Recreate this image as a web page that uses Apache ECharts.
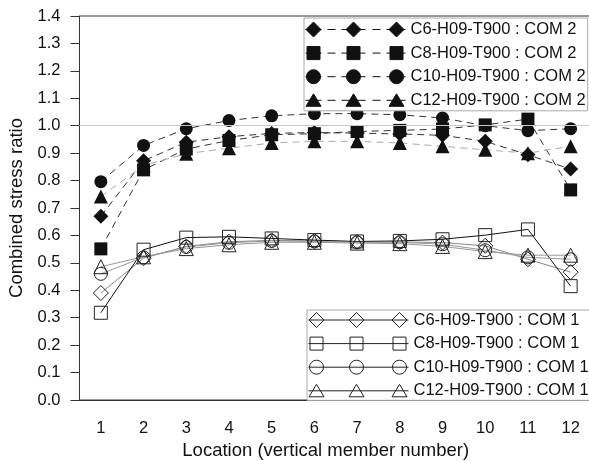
<!DOCTYPE html>
<html>
<head>
<meta charset="utf-8">
<script src="https://cdn.jsdelivr.net/npm/echarts@6/dist/echarts.min.js"></script>
<style>
html,body{margin:0;padding:0;background:#fff;}
#chart{width:589px;height:461px;}
</style>
</head>
<body>
<div id="chart"></div>
<script>
var categories = ['1','2','3','4','5','6','7','8','9','10','11','12'];
var yTickLabels = ['0.0','0.1','0.2','0.3','0.4','0.5','0.6','0.7','0.8','0.9','1.0','1.1','1.2','1.3','1.4'];

var com2C6  = [0.670, 0.872, 0.940, 0.960, 0.972, 0.975, 0.973, 0.970, 0.965, 0.943, 0.894, 0.842];
var com2C8  = [0.551, 0.839, 0.915, 0.946, 0.967, 0.971, 0.979, 0.983, 0.988, 1.003, 1.024, 0.766];
var com2C10 = [0.796, 0.928, 0.989, 1.019, 1.036, 1.044, 1.044, 1.040, 1.028, 1.000, 0.982, 0.989];
var com2C12 = [0.742, 0.855, 0.898, 0.918, 0.937, 0.943, 0.943, 0.937, 0.925, 0.912, 0.900, 0.925];

var com1C6  = [0.390, 0.517, 0.560, 0.577, 0.582, 0.580, 0.577, 0.576, 0.574, 0.562, 0.513, 0.466];
var com1C8  = [0.318, 0.548, 0.592, 0.595, 0.589, 0.583, 0.578, 0.580, 0.586, 0.601, 0.622, 0.415];
var com1C10 = [0.460, 0.520, 0.558, 0.573, 0.580, 0.578, 0.575, 0.575, 0.568, 0.546, 0.520, 0.513];
var com1C12 = [0.486, 0.522, 0.552, 0.566, 0.575, 0.575, 0.572, 0.570, 0.560, 0.541, 0.528, 0.528];

var names2 = ['C6-H09-T900 : COM 2','C8-H09-T900 : COM 2','C10-H09-T900 : COM 2','C12-H09-T900 : COM 2'];
var names1 = ['C6-H09-T900 : COM 1','C8-H09-T900 : COM 1','C10-H09-T900 : COM 1','C12-H09-T900 : COM 1'];

var FONT = 'Liberation Sans, Arial, Helvetica, sans-serif';

// legend icon paths (three markers + line), in a 100 x 16 box
var centers = [8, 48, 91];
function shape(kind, cx) {
  if (kind === 'diamond') return 'M' + cx + ' 0.5 L' + (cx + 7.5) + ' 8 L' + cx + ' 15.5 L' + (cx - 7.5) + ' 8 Z ';
  if (kind === 'rect') return 'M' + (cx - 6.5) + ' 1.5 L' + (cx + 6.5) + ' 1.5 L' + (cx + 6.5) + ' 14.5 L' + (cx - 6.5) + ' 14.5 Z ';
  if (kind === 'circle') return 'M' + (cx - 7) + ' 8 A7 7 0 1 0 ' + (cx + 7) + ' 8 A7 7 0 1 0 ' + (cx - 7) + ' 8 Z ';
  return 'M' + cx + ' 1.5 L' + (cx + 7.5) + ' 14 L' + (cx - 7.5) + ' 14 Z ';
}
function iconPath(kind, dashed) {
  var p = 'path://M0 0 M100 16 ';
  if (dashed) {
    p += 'M0 8 L16 8 M22 8 L30 8 M36 8 L60 8 M67 8 L75 8 M81 8 L100 8 ';
  } else {
    p += 'M0 8 L100 8 ';
  }
  for (var i = 0; i < centers.length; i++) p += shape(kind, centers[i]);
  return p;
}

var kinds = ['diamond', 'rect', 'circle', 'triangle'];
var sizes = [15, 13, 13, 14];
var com2Data = [com2C6, com2C8, com2C10, com2C12];
var com1Data = [com1C6, com1C8, com1C10, com1C12];
var com2LineColors = ['#333', '#333', '#333', '#aaa'];
var com1LineColors = ['#888', '#111', '#999', '#999'];

var series = [];
for (var i = 0; i < 4; i++) {
  series.push({
    name: names1[i], type: 'line', data: com1Data[i],
    symbol: kinds[i], symbolSize: sizes[i], showAllSymbol: true,
    lineStyle: { color: com1LineColors[i], width: 1, type: 'solid' },
    itemStyle: { color: 'rgba(0,0,0,0)', borderColor: '#222', borderWidth: 1 },
    emphasis: { disabled: true }, z: 2
  });
}
for (var j = 0; j < 4; j++) {
  var s = {
    name: names2[j], type: 'line', data: com2Data[j],
    symbol: kinds[j], symbolSize: sizes[j], showAllSymbol: true,
    lineStyle: { color: com2LineColors[j], width: 1, type: [7, 5] },
    itemStyle: { color: '#111', borderColor: '#111', borderWidth: 0 },
    emphasis: { disabled: true }, z: 3
  };
  if (j === 0) {
    s.markLine = {
      silent: true, symbol: ['none', 'none'], label: { show: false },
      lineStyle: { color: '#c8c8c8', width: 1, type: 'solid' },
      emphasis: { disabled: true },
      data: [{ yAxis: 1.0 }]
    };
  }
  series.push(s);
}

function legendData(names, dashed, filled) {
  return names.map(function (n, k) {
    return {
      name: n,
      icon: iconPath(kinds[k], dashed),
      itemStyle: filled
        ? { color: '#111', borderColor: '#111', borderWidth: 1 }
        : { color: 'rgba(0,0,0,0)', borderColor: '#222', borderWidth: 1 }
    };
  });
}

var legendCommon = {
  orient: 'vertical', itemWidth: 100, itemHeight: 16, itemGap: 6.6,
  borderColor: '#aaa', borderWidth: 1, backgroundColor: '#fff',
  selectedMode: false,
  textStyle: { fontSize: 16.5, fontFamily: FONT, color: '#111' }
};

var option = {
  animation: false,
  backgroundColor: '#fff',
  grid: {
    left: 79.5, top: 16, width: 512.5, height: 384,
    outerBoundsMode: 'none', containLabel: false,
    show: true, borderColor: '#333', borderWidth: 1, backgroundColor: 'transparent'
  },
  legend: [
    Object.assign({}, legendCommon, { left: 304, top: 18, padding: [3, 2, 2, 1], data: legendData(names2, true, true) }),
    Object.assign({}, legendCommon, { left: 307, top: 310, padding: [1.5, 2, 1, 1], data: legendData(names1, false, false) })
  ],
  xAxis: {
    type: 'category', data: categories, boundaryGap: true,
    name: 'Location (vertical member number)', nameLocation: 'middle', nameGap: 39,
    nameTextStyle: { fontSize: 18.5, fontFamily: FONT, color: '#111', padding: [0, 20, 0, 0] },
    axisLine: { lineStyle: { color: '#333', width: 1 } },
    axisTick: { alignWithLabel: true, length: 8, lineStyle: { color: '#333' } },
    axisLabel: { fontSize: 16.5, fontFamily: FONT, color: '#111', margin: 20 },
    splitLine: { show: false }
  },
  yAxis: {
    type: 'value', min: 0, max: 1.4, interval: 0.1,
    name: 'Combined stress ratio', nameLocation: 'middle', nameGap: 52,
    nameTextStyle: { fontSize: 18.5, fontFamily: FONT, color: '#111' },
    axisLine: { show: true, lineStyle: { color: '#333', width: 1 } },
    axisTick: { show: true, length: 9, lineStyle: { color: '#333' } },
    axisLabel: {
      fontSize: 16.5, fontFamily: FONT, color: '#111', margin: 19,
      formatter: function (v) { return yTickLabels[Math.round(v * 10)]; }
    },
    splitLine: { show: false }
  },
  series: series
};

var chart = echarts.init(document.getElementById('chart'), null, { renderer: 'canvas' });
chart.setOption(option);
</script>
</body>
</html>
